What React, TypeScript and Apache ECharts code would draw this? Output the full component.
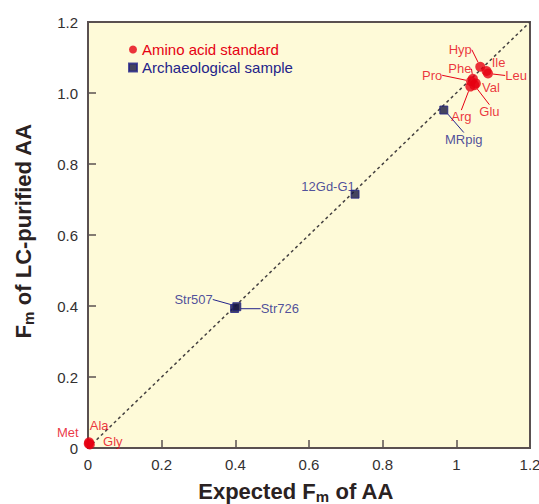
import React, { useEffect, useRef } from 'react';
import * as echarts from 'echarts';

// ---- data ----
const aminoNames = ['Hyp', 'Ile', 'Leu', 'Phe', 'Pro', 'Val', 'Arg', 'Glu', 'Met', 'Ala', 'Gly'];
const aminoExpected = [1.065, 1.082, 1.086, 1.045, 1.04, 1.053, 1.038, 1.049, 0.002, 0.003, 0.005];
const aminoMeasured = [1.074, 1.062, 1.055, 1.04, 1.033, 1.027, 1.018, 1.022, 0.012, 0.016, 0.01];

const sampleNames = ['MRpig', '12Gd-G1', 'Str507', 'Str726'];
const sampleExpected = [0.966, 0.725, 0.398, 0.404];
const sampleMeasured = [0.952, 0.715, 0.393, 0.398];

const axisMin = 0;
const axisMax = 1.2;
const axisInterval = 0.2;
const identityLine = [
  [0, 0],
  [1.2, 1.2],
];

// ---- label placement (style, not data) ----
const labelPlacement: Record<string, { dx: number; dy: number; line: boolean }> = {
  Hyp: { dx: -20, dy: -17, line: true },
  Ile: { dx: 12, dy: -8, line: false },
  Leu: { dx: 28, dy: 2, line: true },
  Phe: { dx: -13, dy: -10, line: true },
  Pro: { dx: -39, dy: -6, line: true },
  Val: { dx: 15, dy: 4, line: false },
  Arg: { dx: -9, dy: 30, line: true },
  Glu: { dx: 15, dy: 26, line: true },
  Met: { dx: -21, dy: -11, line: false },
  Ala: { dx: 10, dy: -17, line: false },
  Gly: { dx: 23, dy: -3, line: false },
  MRpig: { dx: 20, dy: 29, line: true },
  '12Gd-G1': { dx: -27, dy: -8, line: false },
  Str507: { dx: -41, dy: -9, line: true },
  Str726: { dx: 43, dy: 2, line: true },
};

const RED = '#E60012';
const NAVY = '#23238A';
const AXIS = '#5a5050';
const TEXT = '#333030';
const FONT = '"Liberation Sans", Arial, sans-serif';

export default function App() {
  const ref = useRef<HTMLDivElement>(null);

  useEffect(() => {
    document.body.style.margin = '0';
    if (!ref.current) return;
    const chart = echarts.init(ref.current, null, { renderer: 'svg' });

    const mkData = (names: string[], xs: number[], ys: number[]) =>
      names.map((n, i) => ({
        name: n,
        value: [xs[i], ys[i]],
        labelLine: { show: labelPlacement[n].line },
      }));

    const layoutFn = (names: string[]) => (p: any) => {
      const n = names[p.dataIndex];
      return { dx: labelPlacement[n].dx, dy: labelPlacement[n].dy };
    };

    const axisCommon = {
      type: 'value',
      min: axisMin,
      max: axisMax,
      interval: axisInterval,
      splitLine: { show: false },
      axisLine: { show: true, lineStyle: { color: AXIS, width: 2 } },
      axisTick: { show: true, inside: true, length: 8, lineStyle: { color: AXIS, width: 1.5 } },
      axisLabel: { color: TEXT, fontSize: 15, fontFamily: FONT },
      nameLocation: 'middle',
    };

    const nameRich = {
      a: { fontSize: 22, fontWeight: 'bold', fontFamily: FONT, color: '#2a2222', lineHeight: 26 },
      s: { fontSize: 15, fontWeight: 'bold', fontFamily: FONT, color: '#2a2222', lineHeight: 26, padding: [10, 0, 0, 0] },
    };

    chart.setOption({
      animation: false,
      grid: {
        left: 88,
        right: 9,
        top: 22,
        bottom: 56,
        outerBoundsMode: 'none',
        containLabel: false,
        show: true,
        backgroundColor: '#FEFAD8',
        borderColor: AXIS,
        borderWidth: 2,
      },
      legend: {
        orient: 'vertical',
        left: 123,
        top: 37,
        itemWidth: 8,
        itemHeight: 8,
        itemGap: 3,
        textStyle: { fontSize: 15, fontFamily: FONT },
        data: [
          { name: 'Amino acid standard', icon: 'circle', textStyle: { color: RED } },
          { name: 'Archaeological sample', icon: 'rect', textStyle: { color: NAVY } },
        ],
      },
      xAxis: {
        ...axisCommon,
        axisLabel: { ...axisCommon.axisLabel, margin: 9 },
        name: '{a|Expected F}{s|m}{a| of AA}',
        nameGap: 30,
        nameTextStyle: { rich: nameRich, padding: [0, 26, 0, 0] },
      },
      yAxis: {
        ...axisCommon,
        axisLabel: {
          ...axisCommon.axisLabel,
          margin: 10,
          formatter: (v: number) => (v === 0 ? '0' : v.toFixed(1)),
        },
        name: '{a|F}{s|m}{a| of LC-purified AA}',
        nameGap: 52,
        nameTextStyle: { rich: nameRich, padding: [0, 0, 0, 8] },
      },
      series: [
        {
          type: 'line',
          data: identityLine,
          symbol: 'none',
          silent: true,
          z: 1,
          lineStyle: { color: '#444040', width: 1.5, type: [3, 3] },
        },
        {
          name: 'Archaeological sample',
          type: 'scatter',
          symbol: 'rect',
          symbolSize: 8,
          z: 3,
          itemStyle: { color: '#161640', borderColor: NAVY, borderWidth: 1 },
          data: mkData(sampleNames, sampleExpected, sampleMeasured),
          label: {
            show: true,
            position: 'inside',
            formatter: '{b}',
            color: NAVY,
            fontSize: 13,
            fontFamily: FONT,
          },
          labelLine: { show: true, lineStyle: { color: NAVY, width: 1 } },
          labelLayout: layoutFn(sampleNames),
        },
        {
          name: 'Amino acid standard',
          type: 'scatter',
          symbol: 'circle',
          symbolSize: 10,
          z: 4,
          itemStyle: { color: RED },
          data: mkData(aminoNames, aminoExpected, aminoMeasured),
          label: {
            show: true,
            position: 'inside',
            formatter: '{b}',
            color: RED,
            fontSize: 13,
            fontFamily: FONT,
          },
          labelLine: { show: true, lineStyle: { color: RED, width: 1 } },
          labelLayout: layoutFn(aminoNames),
        },
      ],
    });

    return () => chart.dispose();
  }, []);

  return <div ref={ref} style={{ width: 539, height: 504 }} />;
}
